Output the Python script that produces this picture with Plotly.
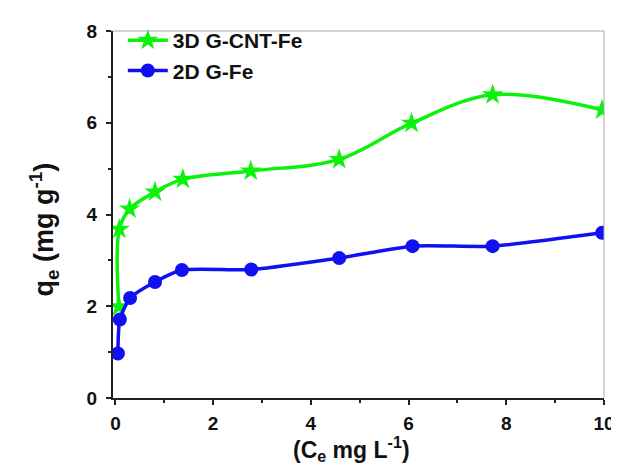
import plotly.graph_objects as go

x_3d = [0.07, 0.08, 0.29, 0.81, 1.38, 2.77, 4.58, 6.06, 7.72, 9.96]
q_3d = [1.99, 3.68, 4.12, 4.49, 4.77, 4.95, 5.20, 5.99, 6.61, 6.28]
x_2d = [0.05, 0.09, 0.30, 0.81, 1.36, 2.78, 4.58, 6.08, 7.72, 9.96]
q_2d = [0.97, 1.71, 2.18, 2.53, 2.79, 2.80, 3.05, 3.31, 3.31, 3.60]
names = ["3D G-CNT-Fe", "2D G-Fe"]
x_ticks = [0, 2, 4, 6, 8, 10]
y_ticks = [0, 2, 4, 6, 8]

FONT = "Arial, Liberation Sans, sans-serif"
GREEN = "#0cf20c"
BLUE = "#1010f0"

fig = go.Figure()
fig.add_trace(go.Scatter(
    x=x_3d, y=q_3d, name=names[0], mode="lines+markers",
    line=dict(color=GREEN, width=3.5, shape="spline", smoothing=1.0),
    marker=dict(symbol="star", size=16, color=GREEN),
))
fig.add_trace(go.Scatter(
    x=x_2d, y=q_2d, name=names[1], mode="lines+markers",
    line=dict(color=BLUE, width=3.5, shape="spline", smoothing=0.6),
    marker=dict(symbol="circle", size=14, color=BLUE),
))

axis_common = dict(
    showgrid=False, zeroline=False, ticks="outside", ticklen=5, tickwidth=1.5,
    tickcolor="#222", showline=True, linecolor="#222", linewidth=2,
    tickfont=dict(family=FONT, size=19, color="#111", weight="bold"),
    minor=dict(ticks="outside", ticklen=3, tickwidth=1.5, tickcolor="#222", dtick=1),
)

fig.update_xaxes(range=[-0.05, 10], tickvals=x_ticks, ticklabelstandoff=2, **axis_common)
fig.update_yaxes(range=[0, 8], tickvals=y_ticks, ticklabelstandoff=5, **axis_common)

# thin grey top/right frame
fig.add_shape(type="line", xref="paper", yref="paper", x0=0, x1=1, y0=1, y1=1,
              line=dict(color="#aaaaaa", width=1))
fig.add_shape(type="line", xref="paper", yref="paper", x0=1, x1=1, y0=0, y1=1,
              line=dict(color="#aaaaaa", width=1))

fig.add_annotation(text="(C<sub>e</sub> mg L<sup>-1</sup>)", xref="paper", yref="paper",
                   x=0.485, y=-0.188, xanchor="center", yanchor="bottom",
                   showarrow=False,
                   font=dict(family=FONT, size=23, color="#111", weight="bold"))
fig.add_annotation(text="q<sub>e</sub> (mg g<sup>-1</sup>)", xref="paper", yref="paper",
                   x=-0.14, y=0.46, xanchor="center", yanchor="middle", textangle=-90,
                   showarrow=False,
                   font=dict(family=FONT, size=27, color="#111", weight="bold"))

fig.update_layout(
    width=619, height=465,
    margin=dict(l=105, r=16, t=21, b=75),
    paper_bgcolor="white", plot_bgcolor="white",
    showlegend=True,
    legend=dict(x=0.02, y=1.03, xanchor="left", yanchor="top",
                bgcolor="rgba(0,0,0,0)", itemwidth=40,
                font=dict(family=FONT, size=21, color="#111", weight="bold"),
                tracegroupgap=0),
)

fig.write_html("out.html")
